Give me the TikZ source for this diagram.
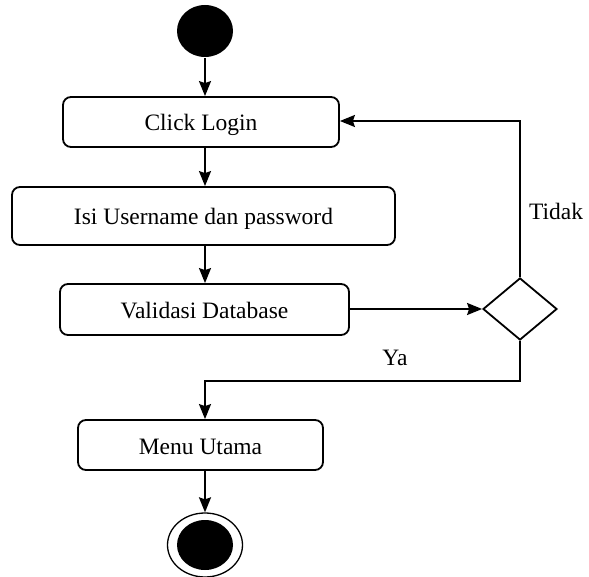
\documentclass[tikz,border=0pt]{standalone}
\usepackage{fontspec}
\setmainfont{Liberation Serif}
\usetikzlibrary{shapes.geometric,arrows.meta}
\begin{document}
\begin{tikzpicture}[x=1pt,y=-1pt,
  font=\fontsize{23.5}{28}\selectfont,
  line width=1.8pt,
  activity/.style={draw,rectangle,rounded corners=8pt,inner sep=0pt,fill=white,
                   text height=18pt,text depth=0pt},
  decision/.style={draw,diamond,inner sep=0pt,minimum width=74pt,minimum height=62pt},
  flow/.style={-{Stealth[length=15pt,width=12pt,inset=2pt]}},
  lbl/.style={inner sep=0pt}]
\useasboundingbox (0,0) rectangle (589,577);

% start and final states
\node[draw=none,fill=black,ellipse,minimum width=56pt,minimum height=52pt,inner sep=0pt] (start) at (205,31) {};
\node[draw,ellipse,minimum width=75pt,minimum height=64pt,inner sep=0pt,line width=1.3pt] (stop) at (205,545) {};
\node[fill=black,ellipse,minimum width=56pt,minimum height=50pt,inner sep=0pt] (stopdot) at (205,545) {};

% activities
\node[activity,minimum width=276pt,minimum height=50pt] (click) at (201,122) {Click Login};
\node[activity,minimum width=383pt,minimum height=58pt] (isi) at (203.5,216) {Isi Username dan password};
\node[activity,minimum width=289pt,minimum height=51pt] (valid) at (204.5,309.5) {Validasi Database};
\node[activity,minimum width=245pt,minimum height=50pt] (menu) at (200.5,445) {Menu Utama};
\node[decision] (dec) at (520,309) {};

% guard labels
\node[lbl] (tidak) at (556,211) {Tidak};
\node[lbl] (ya) at (395,358) {Ya};

% flows
\draw[flow] (start.south) -- (click.north -| start.south);
\draw[flow] (click.south -| start.south) -- (isi.north -| start.south);
\draw[flow] (isi.south -| start.south) -- (valid.north -| start.south);
\draw[flow] (valid.east |- dec.west) -- (dec.west);
\coordinate (upturn) at (dec.north |- 0,121);
\draw[flow] (dec.north) -- (upturn) -- (click.east |- upturn);
\coordinate (downturn) at (dec.south |- 0,381);
\draw[flow] (dec.south) -- (downturn) -- (downturn -| start.south) -- (menu.north -| start.south);
\draw[flow] (menu.south -| start.south) -- (stop.north);
\end{tikzpicture}
\end{document}
